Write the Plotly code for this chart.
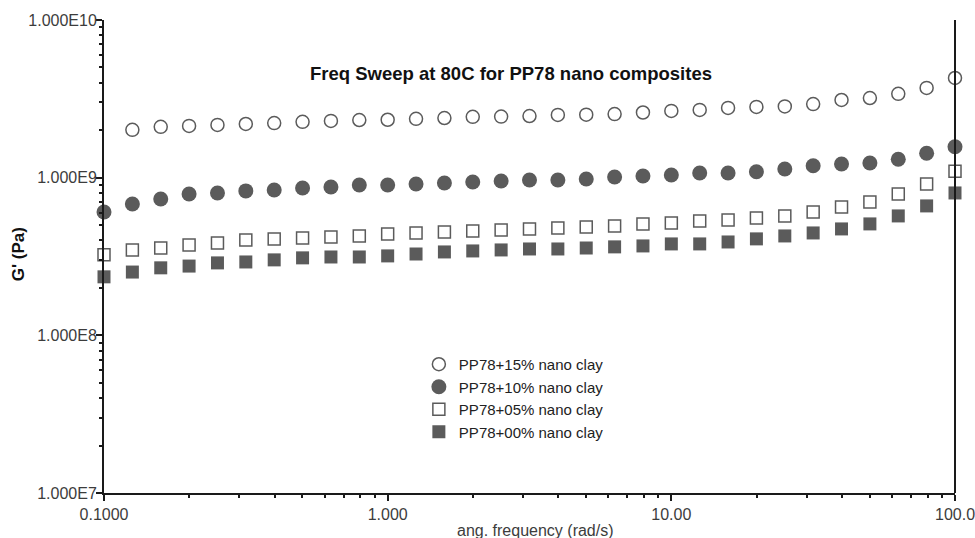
import plotly.graph_objects as go

# Angular frequency sweep, 10 points per decade from 0.1 to 100 rad/s
freq = [0.1, 0.1259, 0.1585, 0.1995, 0.2512, 0.3162, 0.3981, 0.5012, 0.6310, 0.7943,
        1.0, 1.259, 1.585, 1.995, 2.512, 3.162, 3.981, 5.012, 6.310, 7.943,
        10.0, 12.59, 15.85, 19.95, 25.12, 31.62, 39.81, 50.12, 63.10, 79.43, 100.0]

# Storage modulus G' (Pa) for each clay loading
g_15 = [2.01e9, 2.10e9, 2.13e9, 2.16e9, 2.19e9, 2.22e9, 2.26e9, 2.29e9, 2.32e9, 2.33e9,
        2.36e9, 2.39e9, 2.43e9, 2.44e9, 2.46e9, 2.50e9, 2.51e9, 2.53e9, 2.59e9, 2.65e9,
        2.69e9, 2.77e9, 2.81e9, 2.83e9, 2.93e9, 3.11e9, 3.20e9, 3.40e9, 3.71e9, 4.29e9]
freq_15 = freq[1:]

g_10 = [6.06e8, 6.81e8, 7.33e8, 7.88e8, 8.00e8, 8.24e8, 8.36e8, 8.60e8, 8.73e8, 8.99e8,
        8.99e8, 9.12e8, 9.26e8, 9.39e8, 9.53e8, 9.67e8, 9.67e8, 9.81e8, 1.01e9, 1.025e9,
        1.04e9, 1.07e9, 1.07e9, 1.09e9, 1.135e9, 1.19e9, 1.22e9, 1.24e9, 1.31e9, 1.43e9, 1.57e9]

g_05 = [3.24e8, 3.48e8, 3.58e8, 3.74e8, 3.85e8, 4.03e8, 4.09e8, 4.15e8, 4.21e8, 4.27e8,
        4.40e8, 4.46e8, 4.53e8, 4.59e8, 4.66e8, 4.73e8, 4.80e8, 4.87e8, 4.94e8, 5.09e8,
        5.16e8, 5.32e8, 5.39e8, 5.55e8, 5.72e8, 6.06e8, 6.52e8, 7.01e8, 7.88e8, 9.12e8, 1.10e9]

g_00 = [2.35e8, 2.52e8, 2.68e8, 2.75e8, 2.88e8, 2.92e8, 3.01e8, 3.10e8, 3.14e8, 3.14e8,
        3.19e8, 3.28e8, 3.38e8, 3.43e8, 3.48e8, 3.53e8, 3.53e8, 3.58e8, 3.64e8, 3.69e8,
        3.80e8, 3.80e8, 3.91e8, 4.09e8, 4.27e8, 4.46e8, 4.73e8, 5.09e8, 5.72e8, 6.62e8, 8.00e8]

series_names = ["PP78+15% nano clay", "PP78+10% nano clay",
                "PP78+05% nano clay", "PP78+00% nano clay"]

x_tickvals = [0.1, 1, 10, 100]
x_ticktext = ["0.1000", "1.000", "10.00", "100.0"]
y_tickvals = [1e7, 1e8, 1e9, 1e10]
y_ticktext = ["1.000E7", "1.000E8", "1.000E9", "1.000E10"]

GREY = "#5b5b5b"
AXIS = "#1a1a1a"
FONT = "Liberation Sans, Arial, sans-serif"

fig = go.Figure()
fig.add_trace(go.Scatter(
    x=freq_15, y=g_15, mode="markers", name=series_names[0], cliponaxis=False,
    marker=dict(symbol="circle-open", size=13, color=GREY, line=dict(width=1.5, color=GREY))))
fig.add_trace(go.Scatter(
    x=freq, y=g_10, mode="markers", name=series_names[1], cliponaxis=False,
    marker=dict(symbol="circle", size=15, color=GREY, line=dict(width=0))))
fig.add_trace(go.Scatter(
    x=freq, y=g_05, mode="markers", name=series_names[2], cliponaxis=False,
    marker=dict(symbol="square-open", size=12, color=GREY, line=dict(width=1.5, color=GREY))))
fig.add_trace(go.Scatter(
    x=freq, y=g_00, mode="markers", name=series_names[3], cliponaxis=False,
    marker=dict(symbol="square", size=13, color=GREY, line=dict(width=0))))

# decade ticks carry the labels; minor ticks mark 2..9 within each decade
axis_common = dict(showgrid=False, zeroline=False, showline=True, linecolor=AXIS,
                   linewidth=2, ticks="outside", ticklen=6, tickwidth=2, tickcolor=AXIS,
                   tickfont=dict(family=FONT, size=16, color="#3c3c3c"),
                   ticklabeloverflow="allow", automargin=False,
                   minor=dict(dtick="D1", ticks="outside", ticklen=3, tickwidth=1.5,
                              tickcolor=AXIS, showgrid=False))

fig.update_xaxes(type="log", range=[-1, 2], tickmode="array",
                 tickvals=x_tickvals, ticktext=x_ticktext, **axis_common)
fig.update_yaxes(type="log", range=[7, 10], tickmode="array", ticklabelstandoff=-4,
                 tickvals=y_tickvals, ticktext=y_ticktext, **axis_common)

# right-hand frame line
fig.add_shape(type="line", xref="paper", yref="paper", x0=1, x1=1, y0=0, y1=1,
              line=dict(color=AXIS, width=2), layer="above")

fig.add_annotation(text="<b>Freq Sweep at 80C for PP78 nano composites</b>",
                   xref="paper", yref="paper", x=0.478, y=0.886, showarrow=False,
                   xanchor="center", yanchor="middle",
                   font=dict(family=FONT, size=18.5, color="#111111"))
fig.add_annotation(text="ang. frequency (rad/s)", xref="paper", yref="paper",
                   x=0.5065, y=-0.080, showarrow=False, xanchor="center", yanchor="middle",
                   font=dict(family=FONT, size=16, color="#3c3c3c"))
fig.add_annotation(text="<b>G' (Pa)</b>", xref="paper", yref="paper",
                   x=-0.101, y=0.505, showarrow=False, textangle=-90,
                   xanchor="center", yanchor="middle",
                   font=dict(family=FONT, size=17, color="#111111"))

fig.update_layout(
    template="none",
    width=975, height=538,
    margin=dict(l=104, r=20, t=20, b=45, autoexpand=False),
    paper_bgcolor="white", plot_bgcolor="white",
    showlegend=True,
    legend=dict(x=0.370, y=0.3066, xanchor="left", yanchor="top",
                bgcolor="rgba(0,0,0,0)", borderwidth=0,
                font=dict(family=FONT, size=15, color="#222222"),
                tracegroupgap=0),
)

fig.write_html("out.html")
